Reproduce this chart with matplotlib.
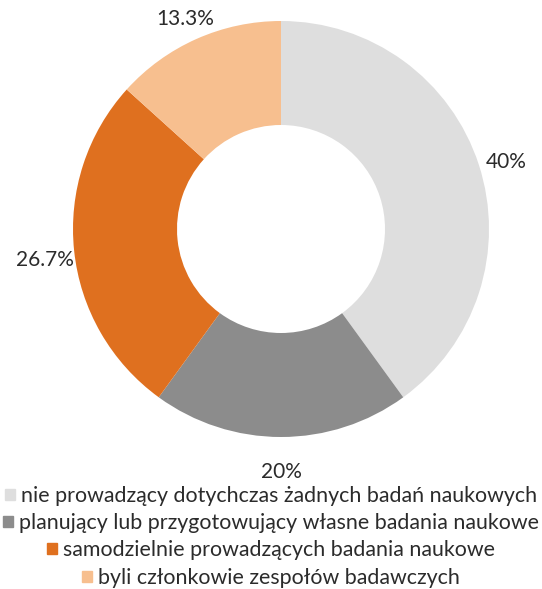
import numpy as np
import matplotlib.pyplot as plt
from matplotlib.patches import Patch

categories = ["nie prowadzący dotychczas żadnych badań naukowych",
              "planujący lub przygotowujący własne badania naukowe",
              "samodzielnie prowadzących badania naukowe",
              "byli członkowie zespołów badawczych"]
values = [40, 20, 26.7, 13.3]
value_labels = ["40%", "20%", "26.7%", "13.3%"]
colors = ["#dedede", "#8c8c8c", "#df701f", "#f7bf8f"]

plt.rcParams['font.family'] = ['Lato', 'DejaVu Sans']
text_color = "#2b2b2b"

fig = plt.figure(figsize=(5.42, 5.89), dpi=100)
ax = fig.add_axes([73/542, 1-437/589, 416/542, 416/589])

wedges, _ = ax.pie(values, colors=colors, startangle=90, counterclock=False,
                   wedgeprops=dict(width=0.5, linewidth=0))
ax.set_xlim(-1, 1)
ax.set_ylim(-1, 1)
ax.set_aspect('equal')
ax.axis('off')

# data labels at the middle of each wedge
for w, lab in zip(wedges, value_labels):
    ang = np.deg2rad((w.theta1 + w.theta2) / 2)
    ax.text(1.14*np.cos(ang), 1.14*np.sin(ang) - 0.03, lab, ha='center', va='center',
            fontsize=15, color=text_color)

# legend, one centered row per entry
rows_y = [496, 523, 550, 578]
for cat, col, y in zip(categories, colors, rows_y):
    fig.legend(handles=[Patch(color=col)], labels=[cat], loc='center',
               bbox_to_anchor=(0.5, 1-y/589), frameon=False, fontsize=15.4,
               handlelength=0.45, handleheight=0.45, handletextpad=0.3,
               labelcolor=text_color, borderpad=0, borderaxespad=0)

fig.savefig("out.png", dpi=100)
